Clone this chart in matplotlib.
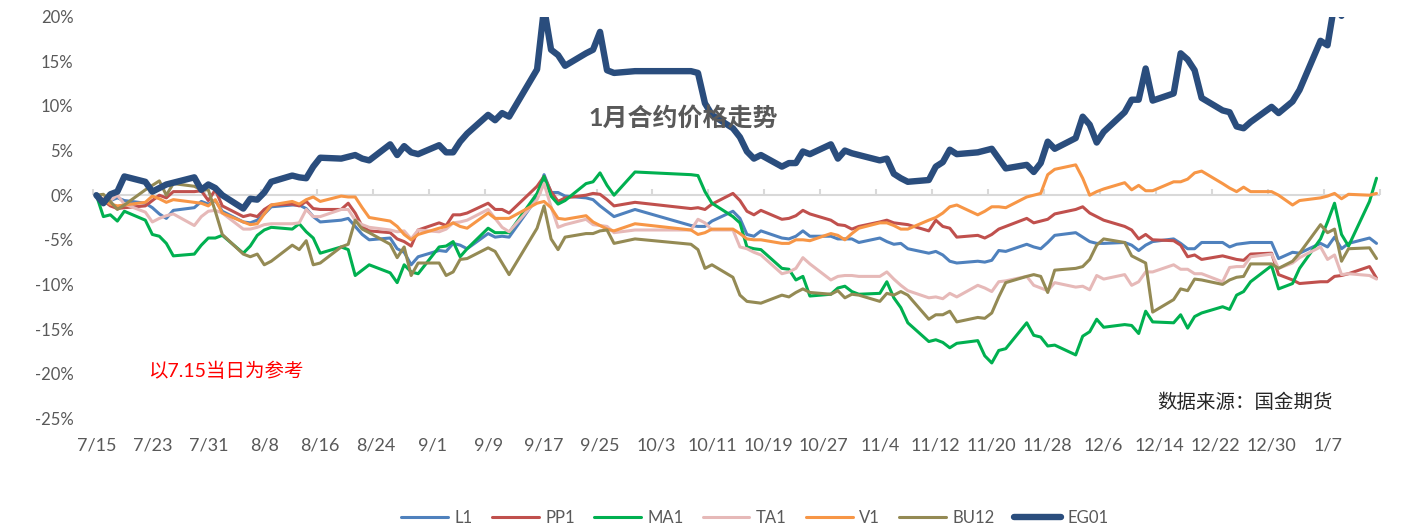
import matplotlib
matplotlib.use("Agg")
import matplotlib.pyplot as plt
import pandas as pd
import numpy as np

# ---------------- data ----------------
holidays = ["2019-09-13", "2019-10-01", "2019-10-02", "2019-10-03", "2019-10-04",
            "2019-10-07", "2020-01-01"]
dates = [d for d in pd.bdate_range("2019-07-15", "2020-01-14") if d.strftime("%Y-%m-%d") not in holidays]

L1 = [0, -0.7, -0.6, -0.3, -0.6, -0.9, -1.4, -2.1, -2.6, -1.7, -1.4, -0.7, -1.0, -0.6, -1.8,
      -3.0, -3.1, -2.8, -2.1, -1.3, -1.1, -1.1, -1.5, -2.4, -3.0, -2.8, -2.6, -3.5, -4.4, -5.0,
      -4.8, -6.0, -6.4, -7.8, -6.9, -6.2, -6.3, -5.4, -5.6, -6.0, -4.3, -4.7, -4.6, -4.7,
      -0.3, 2.3, 0.3, 0.3, -0.1, -0.3, -0.5, -1.2, -1.8, -2.4, -1.6, -3.4, -3.5, -3.5, -2.9,
      -1.8, -2.6, -4.4, -4.6, -4.0, -4.8, -4.9, -4.6, -4.0, -4.6, -4.6, -4.9, -4.9, -4.9, -5.3,
      -4.8, -5.2, -5.5, -5.4, -6.0, -6.5, -6.3, -6.7, -7.4, -7.6, -7.4, -7.5, -7.3, -6.2, -6.3,
      -5.5, -5.8, -6.0, -5.3, -4.5, -4.2, -4.7, -5.2, -5.4, -5.4, -5.3, -5.6, -6.2, -5.6, -5.2,
      -4.9, -5.4, -6.0, -6.0, -5.3, -5.3, -5.8, -5.5, -5.4, -5.3, -5.3, -7.1, -6.4, -6.5,
      -5.4, -5.8, -4.7, -6.0, -5.4, -4.8, -5.4]
PP1 = [0, -0.6, -1.2, -1.5, -1.4, -1.2, -0.6, 0.0, -0.3, 0.4, 0.4, 0.5, -0.6, 0.6, -1.2,
       -2.4, -2.2, -2.4, -1.6, -1.1, -1.0, -1.2, -0.7, -1.5, -1.6, -1.6, -0.9, -2.0, -3.5, -4.0,
       -4.2, -4.9, -5.2, -5.7, -3.9, -3.1, -3.4, -2.2, -2.2, -2.0, -0.9, -1.6, -1.6, -2.0,
       1.0, 2.1, 0.4, -0.7, -0.3, 0.0, 0.2, 0.1, -0.5, -1.2, -0.8, -1.5, -1.4, -1.6, -1.0,
       0.2, -0.6, -1.8, -2.2, -1.7, -2.7, -2.6, -2.3, -1.7, -2.1, -2.8, -3.3, -3.4, -3.8, -3.5,
       -3.0, -2.8, -3.1, -3.2, -3.3, -4.0, -2.8, -3.5, -3.7, -4.7, -4.5, -4.8, -4.4, -3.8, -3.5,
       -2.6, -3.1, -2.9, -2.7, -2.1, -1.6, -1.3, -2.0, -2.4, -2.8, -3.5, -3.9, -4.9, -4.4, -5.0,
       -5.1, -5.6, -6.9, -6.7, -7.2, -6.8, -7.0, -7.2, -7.3, -6.6, -6.5, -8.9, -9.5, -9.9,
       -9.7, -9.7, -9.1, -9.0, -8.8, -8.0, -9.3]
MA1 = [0, -2.4, -2.2, -2.9, -1.8, -2.8, -4.4, -4.6, -5.4, -6.8, -6.6, -5.6, -4.8, -4.8, -4.5,
       -6.5, -5.7, -4.5, -3.9, -3.6, -3.8, -3.2, -4.1, -4.8, -6.5, -5.8, -6.1, -9.0, -8.4, -7.8,
       -8.7, -9.8, -7.8, -8.6, -8.8, -5.8, -5.7, -5.2, -6.9, -6.0, -3.7, -4.2, -4.2, -4.2,
       0.2, 2.1, -0.1, -1.0, -0.6, 1.3, 1.5, 2.5, 1.1, 0.0, 2.6, 2.3, 2.2, 0.4, -0.9,
       -2.4, -3.1, -5.8, -6.0, -6.1, -8.2, -8.3, -9.5, -9.1, -11.3, -11.1, -10.4, -10.2, -10.8, -11.1,
       -11.0, -9.7, -11.5, -12.6, -14.3, -16.4, -16.2, -16.5, -17.1, -16.6, -16.3, -18.0, -18.8, -17.4, -17.2,
       -14.3, -15.7, -15.9, -16.9, -16.8, -17.9, -15.8, -15.3, -13.9, -14.8, -14.5, -14.6, -15.5, -13.0, -14.2,
       -14.3, -13.4, -14.9, -13.6, -13.2, -12.5, -12.8, -11.2, -10.8, -9.7, -7.9, -10.5, -9.9, -8.2,
       -4.9, -3.0, -0.9, -4.4, -5.7, -0.7, 1.9]
TA1 = [0, -0.4, -0.6, 0.0, -1.0, -1.9, -3.0, -2.6, -2.3, -2.1, -3.4, -2.4, -1.8, -1.7, -2.0,
       -3.8, -3.8, -3.6, -3.3, -3.2, -3.2, -3.1, -1.6, -2.4, -2.4, -1.6, -1.6, -2.8, -3.3, -3.6,
       -3.9, -4.1, -4.0, -4.9, -3.9, -4.1, -3.8, -3.1, -3.0, -2.8, -1.6, -2.6, -3.6, -4.1,
       -0.5, 1.3, -1.3, -3.6, -3.3, -2.7, -3.3, -3.4, -3.5, -4.2, -3.9, -3.9, -2.7, -3.1, -3.9,
       -3.9, -5.8, -6.0, -6.4, -6.7, -8.8, -8.6, -8.2, -7.0, -7.7, -9.5, -9.1, -9.0, -9.0, -9.1,
       -9.1, -8.6, -9.4, -10.1, -10.7, -11.5, -11.4, -11.6, -11.0, -11.4, -10.1, -10.4, -10.8, -9.7, -9.6,
       -9.1, -10.1, -10.4, -10.7, -9.8, -10.3, -10.2, -10.6, -9.0, -9.4, -8.9, -10.1, -9.7, -8.6, -8.6,
       -7.8, -8.3, -8.3, -8.8, -8.8, -9.7, -8.1, -8.0, -8.0, -6.9, -6.6, -8.2, -7.6, -7.0,
       -5.8, -7.2, -6.7, -8.9, -8.8, -9.0, -9.4]
V1 = [0, -0.5, -1.0, -1.2, -1.1, -0.8, -0.1, -0.4, -0.8, -0.5, -0.8, -0.9, -1.2, -0.5, -2.0,
      -3.0, -3.3, -3.2, -2.1, -1.1, -0.7, -1.0, -0.5, -0.2, -0.7, -0.1, -0.2, -0.2, -1.4, -2.5,
      -2.9, -3.5, -4.4, -5.0, -4.4, -3.7, -3.5, -3.1, -3.5, -3.7, -2.0, -2.6, -2.6, -2.6,
      -0.9, -0.7, -1.4, -2.6, -2.7, -2.3, -3.0, -3.4, -3.8, -4.0, -3.2, -3.9, -4.4, -4.2, -3.8,
      -3.8, -4.3, -4.9, -5.0, -5.0, -5.4, -5.4, -5.0, -5.0, -5.1, -4.3, -4.5, -5.0, -4.3, -3.7,
      -3.1, -3.1, -3.4, -3.8, -3.8, -2.8, -2.5, -2.0, -1.3, -1.1, -2.2, -1.8, -1.3, -1.3, -1.4,
      -0.2, 0.0, 0.2, 2.3, 2.9, 3.4, 1.9, 0.0, 0.4, 0.7, 1.4, 0.6, 1.1, 0.5, 0.5,
      1.5, 1.5, 1.8, 2.5, 2.7, 1.3, 0.8, 0.4, 0.9, 0.4, 0.4, 0.0, -1.1, -0.6,
      -0.3, -0.1, 0.2, -0.4, 0.1, 0.0, 0.2]
BU12 = [0, 0.1, -0.7, -1.6, -1.1, 0.6, 1.1, 1.6, 0.0, 1.3, 1.0, 0.6, 0.6, -1.8, -4.4,
        -6.6, -6.9, -6.6, -7.8, -7.4, -5.6, -6.1, -5.1, -7.8, -7.6, -5.8, -5.5, -2.8, -3.8, -4.2,
        -5.5, -7.0, -5.8, -9.0, -7.6, -7.6, -9.0, -8.6, -7.2, -7.1, -5.9, -6.3, -7.6, -8.9,
        -3.7, -1.2, -4.9, -6.1, -4.7, -4.3, -4.3, -4.0, -3.9, -5.4, -4.9, -5.5, -6.1, -8.2, -7.8,
        -9.2, -11.2, -11.9, -12.0, -12.1, -11.2, -11.4, -10.9, -10.5, -10.9, -11.1, -10.7, -11.5, -11.1, -11.2,
        -11.9, -11.0, -11.2, -10.8, -11.2, -13.9, -13.4, -13.4, -13.0, -14.2, -13.7, -13.8, -13.2, -11.4, -9.8,
        -9.1, -8.9, -9.1, -10.9, -8.4, -8.2, -8.0, -7.2, -5.6, -4.9, -5.3, -6.8, -7.2, -7.6, -13.1,
        -11.7, -10.5, -10.7, -9.4, -9.5, -10.0, -9.5, -9.2, -9.1, -7.7, -7.7, -8.2, -7.4, -6.5,
        -3.3, -4.2, -3.8, -7.4, -6.0, -5.9, -7.1]
EG01 = [0, -0.9, 0.1, 0.4, 2.1, 1.5, 0.4, 0.8, 1.2, 1.4, 2.0, 0.6, 1.2, 0.8, 0.0,
        -1.5, -0.4, -0.5, 0.3, 1.5, 2.2, 2.0, 1.9, 3.2, 4.2, 4.1, 4.3, 4.5, 4.1, 3.9,
        5.7, 4.5, 5.5, 4.8, 4.6, 5.6, 4.8, 4.8, 6.0, 6.9, 9.0, 8.4, 9.2, 8.8,
        14.1, 21.0, 16.3, 15.7, 14.5, 15.9, 16.3, 18.3, 14.0, 13.7, 13.9, 13.9, 13.7, 10.3, 9.0,
        7.5, 6.5, 4.9, 4.1, 4.5, 3.2, 3.6, 3.6, 4.9, 4.6, 5.7, 4.1, 5.0, 4.7, 4.5,
        3.9, 4.1, 2.4, 1.9, 1.5, 1.7, 3.2, 3.7, 5.1, 4.6, 4.8, 5.0, 5.2, 4.1, 3.0,
        3.4, 2.6, 3.6, 6.0, 5.2, 6.4, 8.8, 7.9, 5.9, 7.1, 9.3, 10.7, 10.7, 14.2, 10.6,
        11.4, 15.9, 15.2, 14.0, 10.9, 9.5, 9.3, 7.7, 7.5, 8.2, 9.9, 9.2, 10.5, 11.8,
        17.3, 16.8, 21.5, 20.1, 22.5, 23.0, 23.5]

series_names = ["L1", "PP1", "MA1", "TA1", "V1", "BU12", "EG01"]
series_vals = [L1, PP1, MA1, TA1, V1, BU12, EG01]
colors = ["#4F81BD", "#C0504D", "#00B050", "#E6B9B8", "#F79646", "#948A54", "#2A4D7D"]
widths = [2.2, 2.2, 2.2, 2.2, 2.2, 2.2, 4.6]

ytick_vals = list(range(-25, 21, 5))
x_start = pd.Timestamp("2019-07-15")
x_end = pd.Timestamp("2020-01-15")
tick_bounds = pd.date_range(x_start, x_end, freq="8D")

# ---------------- plot ----------------
plt.rcParams["font.family"] = ["Lato", "Noto Sans CJK SC", "DejaVu Sans"]
fig = plt.figure(figsize=(14.18, 5.29), dpi=100)
ax = fig.add_axes([0.0655, 0.2093, 0.9077, 0.7591])

# zero axis line
ax.axhline(0, color="#D9D9D9", lw=1.5, zorder=1)

xs = [d + pd.Timedelta(hours=12) for d in dates]
for name, vals, c, w in zip(series_names, series_vals, colors, widths):
    ax.plot(xs, vals, color=c, lw=w, label=name, solid_joinstyle="round",
            solid_capstyle="round", zorder=3)

ax.set_xlim(x_start, x_end)
ax.set_ylim(-25, 20)
for s in ax.spines.values():
    s.set_visible(False)

ax.set_yticks(ytick_vals)
ax.set_yticklabels([f"{v}%" for v in ytick_vals])
ax.tick_params(axis="y", length=0, pad=14, labelsize=12, labelcolor="#595959")

label_pos = [t + pd.Timedelta(hours=12) for t in tick_bounds[:-1]]
ax.set_xticks(label_pos)
ax.set_xticklabels([f"{t.month}/{t.day}" for t in tick_bounds[:-1]])
ax.tick_params(axis="x", length=0, pad=14, labelsize=13, labelcolor="#595959")

# tick marks on the zero axis
sec = ax.secondary_xaxis(25 / 45)
for sp in sec.spines.values():
    sp.set_visible(False)
sec.set_xticks(list(tick_bounds))
sec.set_xticklabels([])
sec.tick_params(axis="x", direction="out", length=4.5, width=1.5, color="#D9D9D9")

fig.text(683 / 1418, 1 - 118 / 529, "1月合约价格走势", ha="center", va="center",
         fontsize=18, fontweight="bold", color="#595959")
fig.text(148 / 1418, 1 - 371 / 529, "以7.15当日为参考", ha="left", va="center",
         fontsize=14, color="#FF0000")
fig.text(1157 / 1418, 1 - 402 / 529, "数据来源：国金期货", ha="left", va="center",
         fontsize=14, color="#262626")

fig.legend(loc="center", bbox_to_anchor=(755 / 1418, 1 - 518 / 529), ncol=7,
           frameon=False, fontsize=12, handlelength=2.8, columnspacing=1.15,
           handletextpad=0.4, labelcolor="#595959")

fig.savefig("out.png", dpi=100)
